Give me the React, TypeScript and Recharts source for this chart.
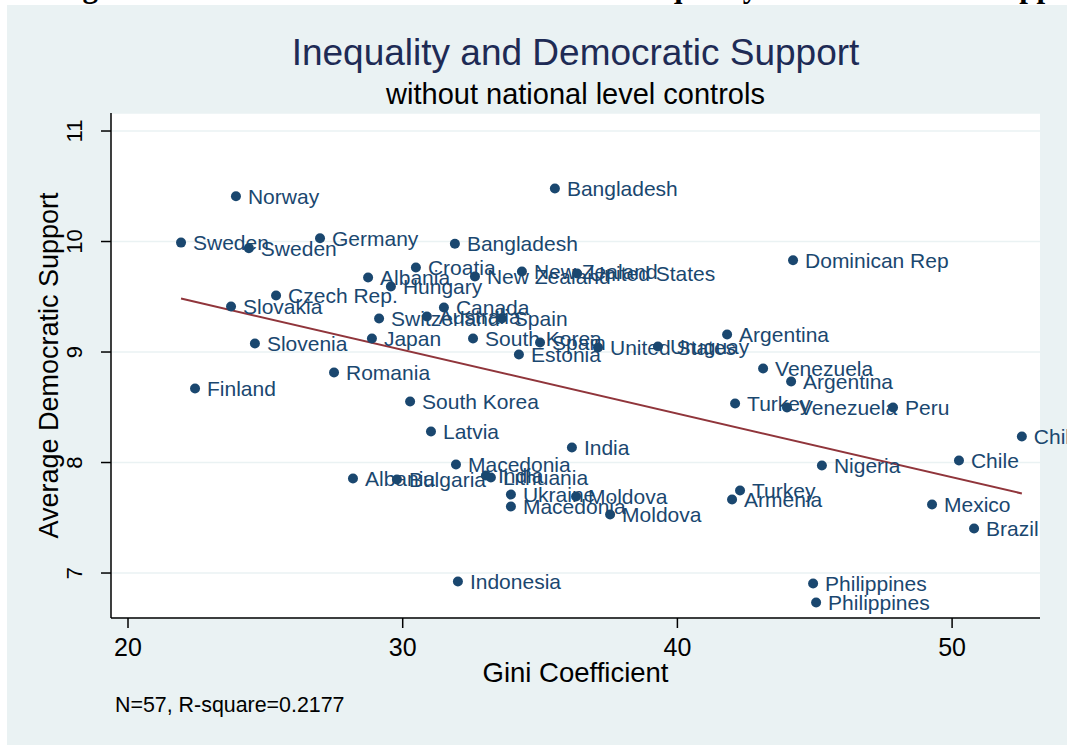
import React from 'react';
import { ScatterChart, Scatter, XAxis, YAxis, CartesianGrid, ReferenceLine } from 'recharts';

// values
const countries = [
  'Norway', 'Sweden', 'Sweden', 'Germany', 'Bangladesh', 'Bangladesh', 'Dominican Rep',
  'Croatia', 'Albania', 'Hungary', 'New Zealand', 'New Zealand', 'United States',
  'Czech Rep.', 'Slovakia', 'Canada', 'Switzerland', 'Australia', 'Spain', 'Japan',
  'South Korea', 'Spain', 'United States', 'Uruguay', 'Estonia', 'Slovenia', 'Argentina',
  'Venezuela', 'Argentina', 'Turkey', 'Venezuela', 'Peru', 'Chile', 'Chile', 'Nigeria',
  'Mexico', 'Brazil', 'Turkey', 'Armenia', 'Moldova', 'Moldova', 'Philippines',
  'Philippines', 'India', 'Indonesia', 'Macedonia', 'India', 'Lithuania', 'Bulgaria',
  'Albania', 'Ukraine', 'Macedonia', 'Latvia', 'South Korea', 'Romania', 'Finland',
];
const gini = [
  23.93, 21.93, 24.40, 26.99, 35.54, 31.90, 44.21,
  30.48, 28.74, 29.57, 32.63, 34.34, 36.35,
  25.39, 23.75, 31.50, 29.14, 30.88, 33.61, 28.88,
  32.56, 35.00, 37.11, 39.29, 34.23, 24.62, 41.81,
  43.12, 44.14, 42.10, 43.99, 47.85, 52.54, 50.25, 45.26,
  49.27, 50.80, 42.28, 41.99, 36.31, 37.55, 44.94,
  45.05, 36.16, 32.01, 31.94, 33.03, 33.21, 29.79,
  28.19, 33.94, 33.94, 31.03, 30.27, 27.50, 22.44,
];
const support = [
  10.41, 9.99, 9.94, 10.03, 10.48, 9.98, 9.83,
  9.765, 9.674, 9.593, 9.683, 9.729, 9.71,
  9.511, 9.412, 9.403, 9.303, 9.321, 9.303, 9.122,
  9.122, 9.086, 9.041, 9.05, 8.977, 9.077, 9.158,
  8.851, 8.733, 8.534, 8.498, 8.498, 8.235, 8.018, 7.973,
  7.62, 7.403, 7.747, 7.665, 7.692, 7.529, 6.905,
  6.733, 8.136, 6.923, 7.982, 7.882, 7.864, 7.846,
  7.855, 7.71, 7.602, 8.281, 8.552, 8.814, 8.67,
];
const fitLine = [
  { x: 21.93, y: 9.484 },
  { x: 52.54, y: 7.72 },
];
const xTicks = [20, 30, 40, 50];
const yTicks = [7, 8, 9, 10, 11];

const points = countries.map((name, i) => ({ name, x: gini[i], y: support[i] }));

const FONT = '"Liberation Sans", Arial, sans-serif';
const NAVY = '#1a476f';
const BG = '#eaf2f3';

const LabeledDot = (props: any) => {
  const { cx, cy, payload } = props;
  if (cx == null || cy == null) return null;
  return (
    <g>
      <circle cx={cx} cy={cy} r={5} fill={NAVY} />
      <text x={cx + 12} y={cy} dy="0.36em" fill={NAVY} fontSize={21} fontFamily={FONT}>
        {payload.name}
      </text>
    </g>
  );
};

const YTick = (props: any) => {
  const { x, y, payload } = props;
  return (
    <text
      x={x}
      y={y}
      transform={`rotate(-90 ${x} ${y})`}
      textAnchor="middle"
      fontSize={22}
      fontFamily={FONT}
      fill="#000"
    >
      {payload.value}
    </text>
  );
};

export default function App() {
  return (
    <div style={{ position: 'absolute', left: 0, top: 0, width: 1067, height: 747, overflow: 'hidden', background: '#fff' }}>
      <svg width={1067} height={5} style={{ position: 'absolute', left: 0, top: 0 }}>
        <text x={55} y={-3} fontSize={31} fontWeight="bold" fontFamily='"Liberation Serif", "Times New Roman", serif' fill="#000">
          Figure 1: The Association between Income Inequality and Democratic Support
        </text>
      </svg>
      <div style={{ position: 'absolute', left: 7, top: 5, width: 1060, height: 740, background: BG }}>
        <ScatterChart width={1060} height={740} margin={{ top: 108, right: 27, bottom: 67, left: 0 }}>
          <CartesianGrid vertical={false} fill="#fff" stroke={BG} strokeWidth={1.5} />
          <XAxis
            type="number"
            dataKey="x"
            domain={[19.381, 53.2]}
            ticks={xTicks}
            height={60}
            tickSize={10}
            tickMargin={10}
            axisLine={{ stroke: '#000', strokeWidth: 1.5 }}
            tickLine={{ stroke: '#000', strokeWidth: 1.5 }}
            tick={{ fontSize: 25, fill: '#000', fontFamily: FONT }}
          />
          <YAxis
            type="number"
            dataKey="y"
            domain={[6.593, 11.163]}
            ticks={yTicks}
            width={104}
            tickSize={10}
            tickMargin={19}
            axisLine={{ stroke: '#000', strokeWidth: 1.5 }}
            tickLine={{ stroke: '#000', strokeWidth: 1.5 }}
            tick={<YTick />}
          />
          <Scatter data={points} fill={NAVY} shape={<LabeledDot />} isAnimationActive={false} />
          <ReferenceLine segment={fitLine} stroke="#90353b" strokeWidth={2} ifOverflow="visible" />
        </ScatterChart>
      </div>
      <svg width={1067} height={747} style={{ position: 'absolute', left: 0, top: 0, pointerEvents: 'none' }}>
        <text x={575.5} y={65} textAnchor="middle" fontSize={37} fontFamily={FONT} fill="#1e2b55">
          Inequality and Democratic Support
        </text>
        <text x={575.5} y={104} textAnchor="middle" fontSize={29} fontFamily={FONT} fill="#000">
          without national level controls
        </text>
        <text x={575.5} y={682} textAnchor="middle" fontSize={27.5} fontFamily={FONT} fill="#000">
          Gini Coefficient
        </text>
        <text x={58} y={365.5} transform="rotate(-90 58 365.5)" textAnchor="middle" fontSize={27} fontFamily={FONT} fill="#000">
          Average Democratic Support
        </text>
        <text x={115} y={712} fontSize={21.4} fontFamily={FONT} fill="#000">
          N=57, R-square=0.2177
        </text>
      </svg>
    </div>
  );
}
